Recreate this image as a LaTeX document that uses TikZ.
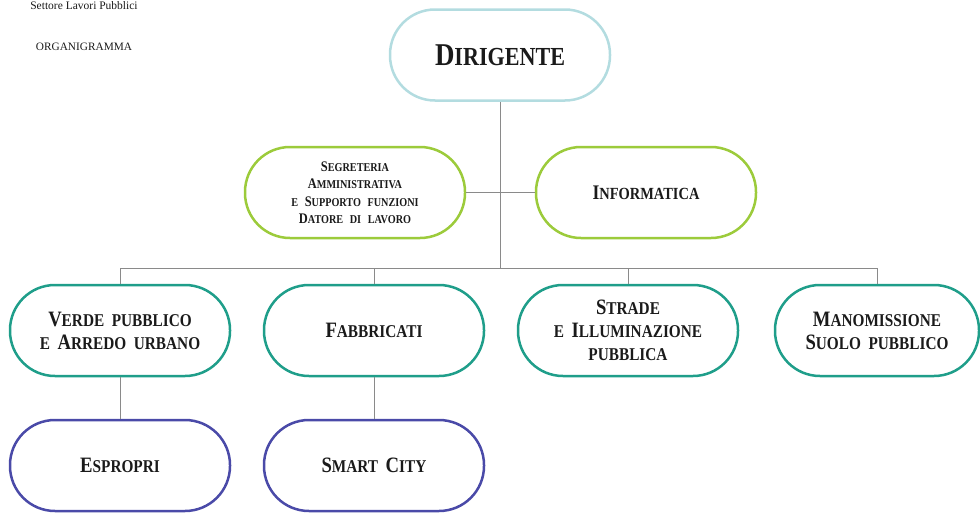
\documentclass[tikz,border=0pt]{standalone}
\usepackage{graphicx}
\usepackage{fontspec}
\setmainfont{Liberation Serif}
\newfontfamily\boxfont{Liberation Serif}[FakeStretch=0.85]
% enlarged initial letter for the small-caps style labels
\newcommand\Ini[1]{\scalebox{1.22}{#1}}
% box label font at a given size and line pitch, with wide word spaces
\newcommand\boxsize[2]{\boxfont\bfseries\fontsize{#1}{#2}\selectfont\spaceskip=0.42em plus 0.1em\relax}
% small label font with extra wide word spaces
\newcommand\segsize{\boxfont\bfseries\fontsize{12}{17.5}\selectfont\spaceskip=0.55em plus 0.1em\relax}
\definecolor{dirblue}{HTML}{B3DCE0}
\definecolor{lime}{HTML}{9CCB3B}
\definecolor{teal}{HTML}{1F9E8A}
\definecolor{indigo}{HTML}{4A4AA8}
\definecolor{wire}{HTML}{8A8A8A}
\definecolor{ink}{HTML}{1A1A1A}
\tikzset{
  orgbox/.style={draw, line width=2.5pt, rounded corners=45pt,
    minimum width=220pt, minimum height=91pt, align=center,
    inner sep=0pt, fill=white, text=ink},
  unittext/.style={font=\boxsize{18}{23}},
  wireline/.style={draw=wire, line width=0.9pt},
  hdr/.style={text=ink, inner sep=0pt}
}
\begin{document}
\begin{tikzpicture}[x=1pt,y=-1pt]
\useasboundingbox (0,0) rectangle (980,514);

% header labels
\node[hdr, font=\fontsize{11.5}{13}\selectfont] (sett) at (84,6) {Settore Lavori Pubblici};
\node[hdr, font=\fontsize{11.3}{13}\selectfont] (org) at (84,47) {ORGANIGRAMMA};

% top level
\node[orgbox, draw=dirblue, font=\boxsize{26}{30}] (dir) at (500,55)
  {\Ini{D}IRIGENTE};

% staff level
\node[orgbox, draw=lime, font=\segsize] (seg) at (355,192.5)
  {\Ini{S}EGRETERIA\\ \Ini{A}MMINISTRATIVA\\ E \Ini{S}UPPORTO FUNZIONI\\ \Ini{D}ATORE DI LAVORO};
\node[orgbox, draw=lime, font=\boxsize{17}{20}] (inf) at (646,192.5)
  {\Ini{I}NFORMATICA};

% operating units
\node[orgbox, draw=teal, unittext] (verde) at (120,330.5)
  {\Ini{V}ERDE PUBBLICO\\ E \Ini{A}RREDO URBANO};
\node[orgbox, draw=teal, unittext] (fab) at (374,330.5)
  {\Ini{F}ABBRICATI};
\node[orgbox, draw=teal, unittext] (strade) at (628,330.5)
  {\Ini{S}TRADE\\ E \Ini{I}LLUMINAZIONE\\ PUBBLICA};
\node[orgbox, draw=teal, unittext, minimum width=204pt] (mano) at (877,330.5)
  {\Ini{M}ANOMISSIONE\\ \Ini{S}UOLO PUBBLICO};

% sub-units
\node[orgbox, draw=indigo, unittext] (esp) at (120,465.5)
  {\Ini{E}SPROPRI};
\node[orgbox, draw=indigo, unittext] (smart) at (374,465.5)
  {\Ini{S}MART \Ini{C}ITY};

% connectors
\coordinate (bus) at (500,268);
\draw[wireline] (dir.south) -- (bus);
\draw[wireline] (seg.east) -- (inf.west);
\draw[wireline] (verde.north |- bus) -- (mano.north |- bus);
\draw[wireline] (verde.north |- bus) -- (verde.north);
\draw[wireline] (fab.north |- bus) -- (fab.north);
\draw[wireline] (strade.north |- bus) -- (strade.north);
\draw[wireline] (mano.north |- bus) -- (mano.north);
\draw[wireline] (verde.south) -- (esp.north);
\draw[wireline] (fab.south) -- (smart.north);
\end{tikzpicture}
\end{document}
